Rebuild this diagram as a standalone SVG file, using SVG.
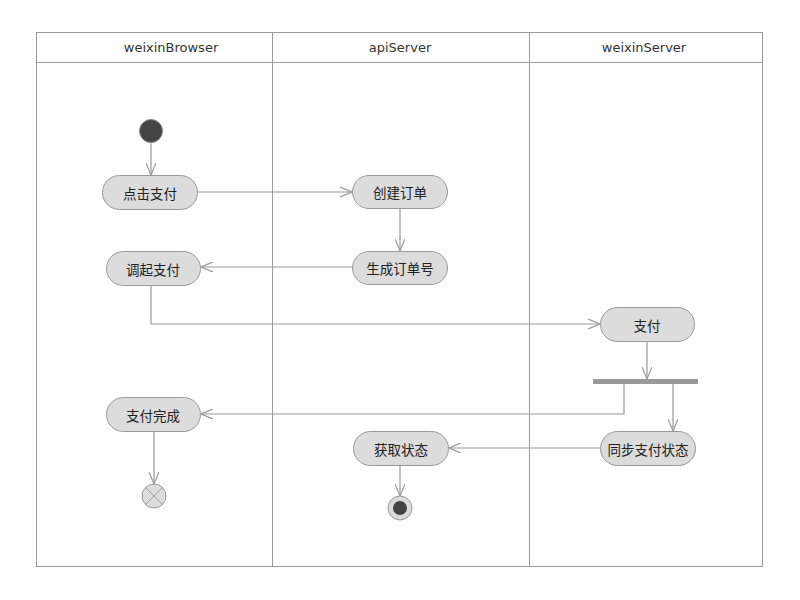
<svg xmlns="http://www.w3.org/2000/svg" width="800" height="600" viewBox="0 0 800 600">
<defs>
<style>
.lane{fill:none;stroke:#999;stroke-width:1}
.act{fill:#dcdcdc;stroke:#9a9a9a;stroke-width:1}
.t{font-family:"Noto Sans CJK SC","Noto Sans",sans-serif;font-size:13.5px;fill:#222;text-anchor:middle;dominant-baseline:central}
.h{font-family:"DejaVu Sans","Liberation Sans",sans-serif;font-size:13px;fill:#333;text-anchor:middle;dominant-baseline:central}
.c{fill:none;stroke:#9a9a9a;stroke-width:1.2}
</style>
<marker id="a" viewBox="0 0 12 10" refX="12" refY="5" markerWidth="12" markerHeight="10" markerUnits="userSpaceOnUse" orient="auto">
<path d="M0,0 L12,5 L0,10" fill="none" stroke="#9a9a9a" stroke-width="1.2"/>
</marker>
</defs>
<rect width="800" height="600" fill="#fff"/>
<g id="swimlanes">
<rect class="lane" x="36.5" y="32.5" width="726" height="534"/>
<line class="lane" x1="36" y1="62.5" x2="762" y2="62.5"/>
<line class="lane" x1="272.5" y1="32" x2="272.5" y2="566"/>
<line class="lane" x1="529.5" y1="32" x2="529.5" y2="566"/>
<text class="h" x="171" y="47">weixinBrowser</text>
<text class="h" x="400" y="47">apiServer</text>
<text class="h" x="644" y="47">weixinServer</text>
</g>
<g id="connectors">
<path class="c" d="M151,143 V175" marker-end="url(#a)"/>
<path class="c" d="M197,192 H352" marker-end="url(#a)"/>
<path class="c" d="M400,208 V251" marker-end="url(#a)"/>
<path class="c" d="M352,267 H201" marker-end="url(#a)"/>
<path class="c" d="M151,285 V324 H600" marker-end="url(#a)"/>
<path class="c" d="M647,341 V379" marker-end="url(#a)"/>
<path class="c" d="M624,384 V414 H201" marker-end="url(#a)"/>
<path class="c" d="M673,384 V431" marker-end="url(#a)"/>
<path class="c" d="M600,448 H449" marker-end="url(#a)"/>
<path class="c" d="M400,465 V496" marker-end="url(#a)"/>
<path class="c" d="M154,431 V484" marker-end="url(#a)"/>
</g>
<g id="start"><circle cx="151" cy="131" r="11.5" fill="#444" stroke="#888" stroke-width="1"/></g>
<g id="n1"><rect class="act" x="102.5" y="175.5" width="95" height="34" rx="17"/><text class="t" x="150" y="192.5">点击支付</text></g>
<g id="n2"><rect class="act" x="352.5" y="175.5" width="95" height="33" rx="16.5"/><text class="t" x="400" y="192">创建订单</text></g>
<g id="n3"><rect class="act" x="352.5" y="251.5" width="95" height="33" rx="16.5"/><text class="t" x="400" y="268">生成订单号</text></g>
<g id="n4"><rect class="act" x="106.5" y="251.5" width="94" height="34" rx="17"/><text class="t" x="153" y="268.5">调起支付</text></g>
<g id="n5"><rect class="act" x="600.5" y="307.5" width="94" height="34" rx="17"/><text class="t" x="647" y="324.5">支付</text></g>
<g id="fork"><rect x="593" y="379" width="105" height="5" fill="#999"/></g>
<g id="n6"><rect class="act" x="106.5" y="397.5" width="94" height="34" rx="17"/><text class="t" x="153" y="414.5">支付完成</text></g>
<g id="n7"><rect class="act" x="600.5" y="431.5" width="95" height="34" rx="17"/><text class="t" x="648" y="448.5">同步支付状态</text></g>
<g id="n8"><rect class="act" x="353.5" y="431.5" width="95" height="34" rx="17"/><text class="t" x="401" y="448.5">获取状态</text></g>
<g id="flowEnd"><circle cx="154" cy="496" r="12" fill="#dcdcdc" stroke="#9a9a9a"/><path d="M145.5,487.5 L162.5,504.5 M162.5,487.5 L145.5,504.5" stroke="#9a9a9a" stroke-width="1"/></g>
<g id="end"><circle cx="400" cy="508" r="12" fill="#dcdcdc" stroke="#9a9a9a"/><circle cx="400" cy="508" r="7" fill="#444"/></g>
</svg>
